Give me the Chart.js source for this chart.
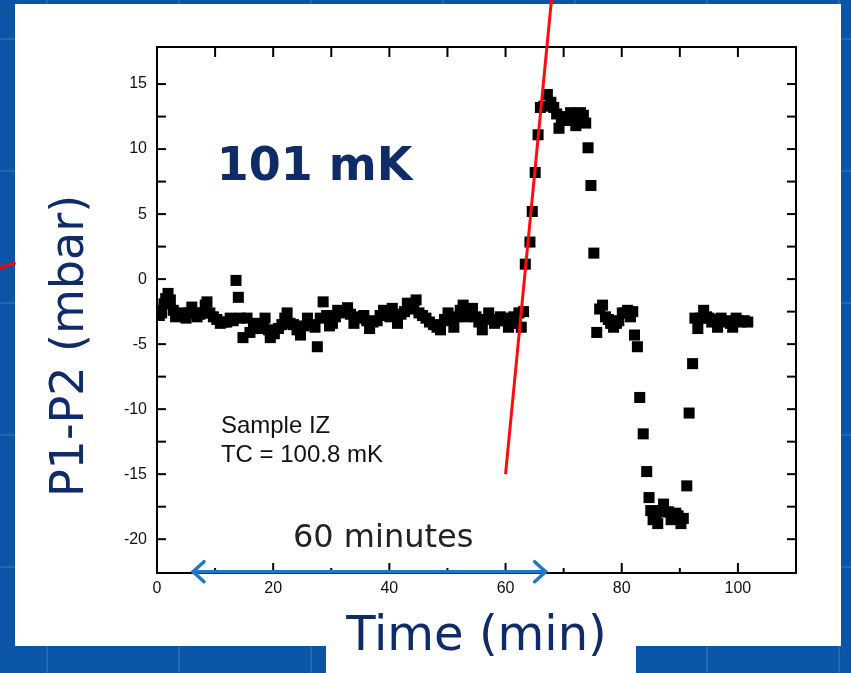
<!DOCTYPE html>
<html>
<head>
<meta charset="utf-8">
<script src="https://cdn.jsdelivr.net/npm/chart.js@4"></script>
<style>
  html, body { margin: 0; padding: 0; }
  body {
    width: 851px; height: 673px; overflow: hidden; position: relative;
    background-color: #0b55a7;
    background-image:
      linear-gradient(90deg, rgba(120,170,230,0.22) 2px, transparent 2px),
      linear-gradient(0deg, rgba(120,170,230,0.22) 2px, transparent 2px);
    background-size: 132px 132px;
    background-position: 46px 40px;
  }
  #panel { position: absolute; left: 15px; top: 4px; width: 826px; height: 642px; background: #fff; }
  #titlebox { position: absolute; left: 326px; top: 600px; width: 310px; height: 73px; background: #fff; }
  #stub { position: absolute; left: -1px; top: 264px; width: 17px; height: 3px; background: #f00; transform: rotate(-18deg); }
  #c { position: absolute; left: 0; top: 0; }
</style>
</head>
<body>
<div id="panel"></div>
<div id="titlebox"></div>
<div id="stub"></div>
<canvas id="c" width="851" height="673"></canvas>
<script>
// time (min) and P1-P2 (mbar)
const timeMin = [
  0.0, 0.4, 0.8, 1.2, 1.5, 1.9, 2.3, 2.8, 3.2, 3.6, 4.1, 4.5, 5.0, 5.5, 6.0, 6.5, 6.9, 7.4, 7.9, 8.3,
  8.6, 9.1, 9.7, 10.3, 10.9, 11.5, 12.0, 12.6, 13.1, 13.6, 14.0, 14.3, 14.8, 15.5, 16.0, 16.6, 17.2, 17.8, 18.3, 18.6,
  19.2, 19.5, 20.2, 20.9, 21.5, 22.0, 22.4, 22.9, 23.5, 24.1, 24.7, 25.3, 25.9, 26.5, 27.2, 27.6, 28.1, 28.6, 29.2, 29.7,
  30.2, 30.7, 31.1, 31.6, 32.2, 32.8, 33.3, 33.9, 34.5, 35.1, 35.6, 36.1, 36.6, 37.2, 37.9, 38.4, 39.0, 39.6, 40.1, 40.5,
  41.0, 41.4, 42.0, 42.6, 43.1, 43.7, 44.2, 44.6, 45.1, 45.7, 46.3, 46.9, 47.6, 48.2, 48.8, 49.5, 50.1, 50.6, 51.1, 51.7,
  52.2, 52.7, 53.3, 53.8, 54.3, 54.9, 55.4, 56.0, 56.6, 57.1, 57.6, 58.1, 58.6, 59.1, 59.6, 60.0, 60.5, 60.9, 61.4, 61.9,
  62.3, 62.7, 63.1, 63.4, 64.2, 64.6, 65.1, 65.6, 66.0, 66.6, 67.2, 67.8, 68.3, 68.8, 69.2, 69.6, 70.0, 70.6, 71.2, 71.6,
  72.1, 72.5, 72.9, 73.4, 73.8, 74.2, 74.7, 75.2, 75.7, 76.2, 76.7, 77.2, 77.7, 78.1, 78.6, 79.1, 79.5, 80.1, 80.6, 81.0,
  81.5, 81.9, 82.2, 82.7, 83.1, 83.7, 84.3, 84.7, 85.0, 85.4, 85.9, 86.2, 86.7, 87.2, 87.6, 88.1, 88.5, 88.8, 89.3, 89.7,
  90.2, 90.6, 91.2, 91.6, 92.2, 92.6, 93.1, 93.6, 94.1, 94.6, 95.0, 95.5, 96.0, 96.5, 97.1, 97.7, 98.3, 98.7, 99.1, 99.7,
  100.1, 100.5, 101.1, 101.7
];
const deltaP = [
  -2.4, -2.8, -2.6, -1.9, -1.5, -1.1, -1.6, -2.4, -2.9, -2.7, -2.6, -2.8, -3.0, -2.6, -2.15, -2.6, -2.9, -2.7, -2.6, -2.0,
  -1.75, -2.6, -2.9, -3.1, -3.4, -3.3, -3.3, -3.0, -3.2, -0.1, -1.4, -3.0, -4.5, -3.0, -4.1, -3.8, -3.4, -3.8, -3.6, -3.0,
  -3.9, -4.5, -4.2, -3.8, -3.5, -3.0, -2.6, -3.4, -3.5, -3.9, -4.3, -3.6, -3.0, -3.5, -3.7, -5.2, -3.0, -1.75, -2.8, -3.6,
  -3.4, -2.9, -2.4, -2.6, -2.5, -2.2, -2.7, -3.4, -3.0, -2.9, -2.8, -3.2, -3.8, -3.3, -3.2, -2.8, -2.4, -2.6, -2.9, -2.25,
  -2.8, -3.4, -2.7, -2.5, -1.85, -2.3, -2.2, -1.6, -2.6, -2.8, -3.0, -3.3, -3.5, -3.7, -3.9, -3.1, -2.6, -3.2, -3.7, -2.9,
  -2.4, -2.0, -2.9, -2.6, -2.25, -2.9, -3.3, -3.9, -3.1, -2.6, -3.1, -3.4, -3.2, -2.9, -3.0, -3.2, -3.7, -3.4, -2.9, -3.1,
  -2.6, -3.7, -2.5, 1.15, 2.85, 5.2, 8.2, 11.1, 13.2, 13.3, 14.2, 13.6, 13.2, 12.7, 11.6, 12.2, 12.5, 12.2, 12.8, 12.4,
  11.8, 12.4, 12.8, 12.6, 12.0, 10.1, 7.2, 2.0, -4.1, -2.3, -2.0, -2.9, -3.1, -3.4, -3.7, -3.4, -3.2, -2.6, -2.6, -2.4,
  -2.9, -2.5, -4.3, -5.2, -9.1, -11.9, -14.8, -16.8, -17.8, -18.5, -18.3, -18.8, -17.8, -17.3, -17.9, -17.9, -18.5, -18.3, -18.0, -18.2,
  -18.8, -18.4, -15.9, -10.3, -6.5, -3.0, -3.8, -3.0, -2.4, -2.9, -3.0, -3.3, -3.1, -3.7, -3.0, -3.3, -3.2, -3.4, -3.7, -3.0,
  -3.2, -3.3, -3.2, -3.3
];

// red guide line (drawn past the top of the plot)
const fitT = [60, 67.9];
const fitP = [-15, 21.46];

// blue "60 minutes" span arrow
const spanT = [6.2, 66.9];
const spanP = -22.5;

const xTickLabels = [0, 20, 40, 60, 80, 100];
const yTickLabels = [-20, -15, -10, -5, 0, 5, 10, 15];

const navy = '#0f2b68';
const tickFont = { family: "'Liberation Sans', Arial, sans-serif", size: 16 };

function hline(ctx, x1, y1, x2, y2) {
  ctx.beginPath(); ctx.moveTo(x1, y1); ctx.lineTo(x2, y2); ctx.stroke();
}

const frame = {
  id: 'frame',
  beforeDatasetsDraw(chart) {
    const { ctx, chartArea: a, scales: { x, y } } = chart;
    ctx.save();
    ctx.strokeStyle = '#000';
    ctx.lineWidth = 2;
    ctx.strokeRect(a.left, a.top, a.right - a.left, a.bottom - a.top);
    x.ticks.forEach(t => {
      const v = t.value;
      if (v <= x.min + 0.5 || v >= x.max - 0.5) return;
      const px = x.getPixelForValue(v);
      const major = v % 20 === 0;
      hline(ctx, px, a.bottom, px, a.bottom - (major ? 10 : 5));
      hline(ctx, px, a.top, px, a.top + 10);
    });
    y.ticks.forEach(t => {
      const v = t.value;
      if (Math.abs(v / 2.5 - Math.round(v / 2.5)) > 1e-6) return;
      if (v <= y.min + 0.3 || v >= y.max - 0.3) return;
      const py = y.getPixelForValue(v);
      hline(ctx, a.left, py, a.left + 9, py);
      hline(ctx, a.right, py, a.right - 9, py);
    });
    ctx.restore();
  },
  afterDatasetsDraw(chart) {
    const { ctx, scales: { x, y } } = chart;
    ctx.save();
    // span arrow
    const x0 = x.getPixelForValue(spanT[0]);
    const x1 = x.getPixelForValue(spanT[1]);
    const ay = y.getPixelForValue(spanP);
    ctx.strokeStyle = '#2077c3';
    ctx.lineWidth = 3.5;
    ctx.lineCap = 'round';
    hline(ctx, x0, ay, x1, ay);
    ctx.beginPath();
    ctx.moveTo(x0 + 11, ay - 10); ctx.lineTo(x0, ay); ctx.lineTo(x0 + 11, ay + 10);
    ctx.moveTo(x1 - 11, ay - 10); ctx.lineTo(x1, ay); ctx.lineTo(x1 - 11, ay + 10);
    ctx.stroke();

    // annotations
    ctx.textBaseline = 'alphabetic';
    ctx.textAlign = 'left';
    ctx.fillStyle = navy;
    ctx.font = "bold 46px 'DejaVu Sans', Verdana, sans-serif";
    ctx.fillText('101 mK', x.getPixelForValue(10.3), y.getPixelForValue(7.6));

    ctx.fillStyle = '#111';
    ctx.font = "24px 'Liberation Sans', Arial, sans-serif";
    ctx.fillText('Sample IZ', x.getPixelForValue(11.0), y.getPixelForValue(-11.8));
    ctx.fillText('TC = 100.8 mK', x.getPixelForValue(11.0), y.getPixelForValue(-14.1));

    ctx.fillStyle = '#222';
    ctx.font = "32px 'DejaVu Sans', Verdana, sans-serif";
    ctx.fillText('60 minutes', x.getPixelForValue(23.4), y.getPixelForValue(-20.6));

    // y axis title
    ctx.translate(71, 346);
    ctx.rotate(-Math.PI / 2);
    ctx.textAlign = 'center';
    ctx.textBaseline = 'middle';
    ctx.fillStyle = navy;
    ctx.font = "46px 'DejaVu Sans', Verdana, sans-serif";
    ctx.fillText('P1-P2 (mbar)', 0, 0);
    ctx.restore();
  }
};

new Chart(document.getElementById('c'), {
  type: 'scatter',
  data: {
    datasets: [
      {
        type: 'line',
        data: fitT.map((t, i) => ({ x: t, y: fitP[i] })),
        borderColor: '#ff0d0d',
        borderWidth: 3,
        pointRadius: 0,
        clip: false
      },
      {
        data: timeMin.map((t, i) => ({ x: t, y: deltaP[i] })),
        pointStyle: 'rect',
        pointRadius: 7.8,
        pointBorderWidth: 0,
        backgroundColor: '#000',
        borderColor: '#000'
      }
    ]
  },
  options: {
    responsive: false,
    animation: false,
    devicePixelRatio: 1,
    layout: { padding: { top: 47, right: 55, left: 0, bottom: 0 } },
    plugins: { legend: { display: false }, tooltip: { enabled: false } },
    scales: {
      x: {
        type: 'linear',
        min: 0,
        max: 110,
        afterFit: s => { s.height = 100; },
        grid: { display: false, drawTicks: false },
        border: { display: false },
        ticks: {
          stepSize: 10,
          padding: 6,
          color: '#111',
          font: tickFont,
          maxRotation: 0,
          autoSkip: false,
          callback: v => xTickLabels.includes(v) ? String(v) : ''
        },
        title: {
          display: true,
          text: 'Time (min)',
          color: navy,
          font: { family: "'DejaVu Sans', Verdana, sans-serif", size: 48 },
          padding: { top: 0, bottom: 7 }
        }
      },
      y: {
        type: 'linear',
        min: -22.6,
        max: 17.85,
        afterFit: s => { s.width = 157; },
        grid: { display: false, drawTicks: false },
        border: { display: false },
        ticks: {
          stepSize: 2.5,
          padding: 10,
          color: '#111',
          font: tickFont,
          autoSkip: false,
          callback: v => yTickLabels.includes(v) ? String(v) : ''
        }
      }
    }
  },
  plugins: [frame]
});
</script>
</body>
</html>
